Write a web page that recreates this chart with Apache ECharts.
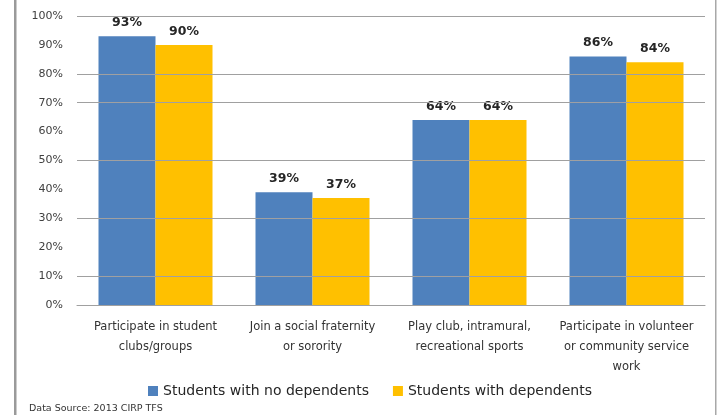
<!DOCTYPE html>
<html>
<head>
<meta charset="utf-8">
<script src="https://cdn.jsdelivr.net/npm/echarts@6/dist/echarts.min.js"></script>
<style>
html,body{margin:0;padding:0;background:#fff;}
#chart{width:723px;height:415px;}
</style>
</head>
<body>
<div id="chart"></div>
<script>
const categories = [
  "Participate in student\nclubs/groups",
  "Join a social fraternity\nor sorority",
  "Play club, intramural,\nrecreational sports",
  "Participate in volunteer\nor community service\nwork"
];
const seriesNames = ["Students with no dependents", "Students with dependents"];
const noDependents = [93, 39, 64, 86];
const withDependents = [90, 37, 64, 84];
const gridValues = [0, 10, 30, 50, 70, 80, 100];
const sourceNote = "Data Source: 2013 CIRP TFS";

const chart = echarts.init(document.getElementById('chart'), null, {renderer: 'canvas'});
const labelStyle = {
  show: true,
  position: 'top',
  distance: 4,
  formatter: '{c}%',
  fontFamily: 'DejaVu Sans',
  fontWeight: 'bold',
  fontSize: 12.5,
  color: '#262626',
  backgroundColor: '#ffffff',
  padding: [3, 5]
};
chart.setOption({
  animation: false,
  backgroundColor: '#ffffff',
  grid: {left: 77, right: 18, top: 16, bottom: 110, containLabel: false},
  legend: {
    data: seriesNames,
    left: 143,
    top: 379,
    itemWidth: 10,
    itemHeight: 10,
    itemGap: 24,
    icon: 'rect',
    textStyle: {fontFamily: 'DejaVu Sans', fontSize: 14, color: '#262626'}
  },
  xAxis: {
    type: 'category',
    data: categories,
    axisLine: {show: true, lineStyle: {color: '#999999', width: 1}},
    axisTick: {show: false},
    axisLabel: {
      interval: 0,
      margin: 12,
      fontFamily: 'DejaVu Sans',
      fontSize: 11.5,
      lineHeight: 20,
      color: '#333333'
    }
  },
  yAxis: {
    type: 'value',
    min: 0,
    max: 100,
    interval: 10,
    axisLine: {show: false},
    axisTick: {show: false},
    splitLine: {show: false},
    axisLabel: {
      formatter: '{value}%',
      margin: 14,
      fontFamily: 'DejaVu Sans',
      fontSize: 11,
      color: '#404040'
    }
  },
  series: [
    {
      name: 'grid',
      type: 'line',
      data: [],
      z: 1,
      silent: true,
      markLine: {
        silent: true,
        symbol: 'none',
        label: {show: false},
        lineStyle: {color: '#a0a0a0', width: 1, type: 'solid'},
        data: gridValues.map(v => ({yAxis: v}))
      }
    },
    {
      name: seriesNames[0],
      type: 'bar',
      data: noDependents,
      barWidth: 57,
      barGap: '0%',
      z: 2,
      itemStyle: {color: '#4F81BD'},
      label: labelStyle
    },
    {
      name: seriesNames[1],
      type: 'bar',
      data: withDependents,
      barWidth: 57,
      barGap: '0%',
      z: 2,
      itemStyle: {color: '#FFC000'},
      label: labelStyle
    }
  ],
  graphic: [
    {type: 'rect', left: 14, top: 0, shape: {width: 2.5, height: 415}, style: {fill: '#9a9a9a'}},
    {type: 'rect', left: 715, top: 0, shape: {width: 1.5, height: 415}, style: {fill: '#a8a8a8'}},
    {type: 'text', left: 29, top: 404, style: {text: sourceNote, font: '9.5px "DejaVu Sans"', fill: '#333333'}}
  ]
});
</script>
</body>
</html>
